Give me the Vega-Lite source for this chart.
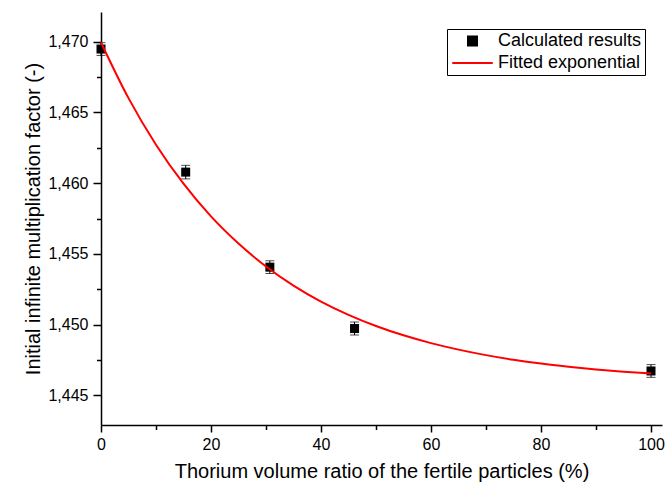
{
  "$schema": "https://vega.github.io/schema/vega-lite/v6.json",
  "width": 561,
  "height": 413,
  "autosize": {"type": "none"},
  "padding": {"left": 101, "top": 12, "right": 10, "bottom": 60},
  "background": "white",
  "config": {
    "font": "Liberation Sans",
    "view": {"stroke": null},
    "axis": {
      "domainColor": "black",
      "domainWidth": 1.5,
      "tickColor": "black",
      "tickWidth": 1.5,
      "labelColor": "black",
      "labelFont": "Liberation Sans",
      "labelFontSize": 16,
      "titleFont": "Liberation Sans",
      "titleFontSize": 20,
      "titleFontWeight": "normal",
      "titleColor": "black",
      "grid": false,
      "labelFlush": false,
      "labelOverlap": false
    }
  },
  "datasets": {
    "calc": [
      {"x": 0, "k": 1.46948, "lo": 1.46903, "hi": 1.46993, "series": "Calculated results"},
      {"x": 15.4, "k": 1.46078, "lo": 1.46030, "hi": 1.46126, "series": "Calculated results"},
      {"x": 30.7, "k": 1.45406, "lo": 1.45361, "hi": 1.45451, "series": "Calculated results"},
      {"x": 46.1, "k": 1.44972, "lo": 1.44926, "hi": 1.45018, "series": "Calculated results"},
      {"x": 100, "k": 1.44672, "lo": 1.44627, "hi": 1.44717, "series": "Calculated results"}
    ],
    "fit": [
      {"x": 0, "k": 1.46995, "series": "Fitted exponential"},
      {"x": 5, "k": 1.46601, "series": "Fitted exponential"},
      {"x": 10, "k": 1.46272, "series": "Fitted exponential"},
      {"x": 15, "k": 1.45996, "series": "Fitted exponential"},
      {"x": 20, "k": 1.45765, "series": "Fitted exponential"},
      {"x": 25, "k": 1.45573, "series": "Fitted exponential"},
      {"x": 30, "k": 1.45411, "series": "Fitted exponential"},
      {"x": 35, "k": 1.45276, "series": "Fitted exponential"},
      {"x": 40, "k": 1.45163, "series": "Fitted exponential"},
      {"x": 45, "k": 1.45069, "series": "Fitted exponential"},
      {"x": 50, "k": 1.44990, "series": "Fitted exponential"},
      {"x": 55, "k": 1.44924, "series": "Fitted exponential"},
      {"x": 60, "k": 1.44869, "series": "Fitted exponential"},
      {"x": 65, "k": 1.44823, "series": "Fitted exponential"},
      {"x": 70, "k": 1.44784, "series": "Fitted exponential"},
      {"x": 75, "k": 1.44751, "series": "Fitted exponential"},
      {"x": 80, "k": 1.44724, "series": "Fitted exponential"},
      {"x": 85, "k": 1.44702, "series": "Fitted exponential"},
      {"x": 90, "k": 1.44683, "series": "Fitted exponential"},
      {"x": 95, "k": 1.44667, "series": "Fitted exponential"},
      {"x": 100, "k": 1.44654, "series": "Fitted exponential"}
    ]
  },
  "resolve": {"axis": {"x": "independent", "y": "independent"}},
  "layer": [
    {
      "encoding": {
        "x": {
          "field": "x",
          "type": "quantitative",
          "scale": {"domain": [0, 102], "nice": false, "zero": false},
          "axis": {
            "orient": "bottom",
            "values": [0, 20, 40, 60, 80, 100],
            "tickSize": 7,
            "labelPadding": 4,
            "titlePadding": 9,
            "title": "Thorium volume ratio of the fertile particles (%)"
          }
        },
        "y": {
          "field": "k",
          "type": "quantitative",
          "scale": {"domain": [1.4429, 1.4721], "nice": false, "zero": false},
          "axis": {
            "orient": "left",
            "values": [1.445, 1.45, 1.455, 1.46, 1.465, 1.47],
            "labelExpr": "replace(format(datum.value, '.3f'), '.', ',')",
            "tickSize": 8,
            "labelPadding": 5,
            "titlePadding": 4,
            "title": "Initial infinite multiplication factor (-)"
          }
        },
        "color": {
          "field": "series",
          "type": "nominal",
          "scale": {"domain": ["Calculated results", "Fitted exponential"], "range": ["black", "red"]},
          "legend": {
            "orient": "none",
            "legendX": 346,
            "legendY": 17,
            "title": null,
            "strokeColor": "black",
            "fillColor": "white",
            "padding": 3,
            "rowPadding": 4,
            "symbolSize": 81,
            "labelFontSize": 18,
            "labelColor": "black",
            "labelFont": "Liberation Sans",
            "encode": {
              "symbols": {
                "update": {
                  "shape": {"signal": "datum.value === 'Calculated results' ? 'square' : 'M-4.5,0H4.5'"},
                  "size": {"value": 81},
                  "fill": {"signal": "datum.value === 'Calculated results' ? 'black' : 'transparent'"},
                  "stroke": {"signal": "datum.value === 'Calculated results' ? 'transparent' : 'red'"},
                  "strokeWidth": {"value": 2},
                  "opacity": {"value": 1},
                  "x": {"value": 22.5}
                }
              },
              "labels": {
                "update": {"x": {"value": 48}}
              }
            }
          }
        }
      },
      "layer": [
        {
          "data": {"name": "calc"},
          "mark": {"type": "errorbar", "ticks": {"size": 9}, "thickness": 1},
          "encoding": {
            "y": {"field": "lo", "type": "quantitative"},
            "y2": {"field": "hi"}
          }
        },
        {
          "data": {"name": "calc"},
          "mark": {"type": "point", "shape": "square", "filled": true, "size": 81, "opacity": 1}
        },
        {
          "data": {"name": "fit"},
          "mark": {"type": "line", "strokeWidth": 2, "interpolate": "monotone"}
        }
      ]
    },
    {
      "data": {"name": "calc"},
      "mark": {"type": "point", "opacity": 0},
      "encoding": {
        "x": {
          "field": "x",
          "type": "quantitative",
          "axis": {"orient": "bottom", "values": [10, 30, 50, 70, 90], "labels": false, "domain": false, "tickSize": 4.5, "title": null}
        },
        "y": {
          "field": "k",
          "type": "quantitative",
          "axis": {"orient": "left", "values": [1.4475, 1.4525, 1.4575, 1.4625, 1.4675], "labels": false, "domain": false, "tickSize": 4.5, "title": null}
        }
      }
    }
  ]
}
